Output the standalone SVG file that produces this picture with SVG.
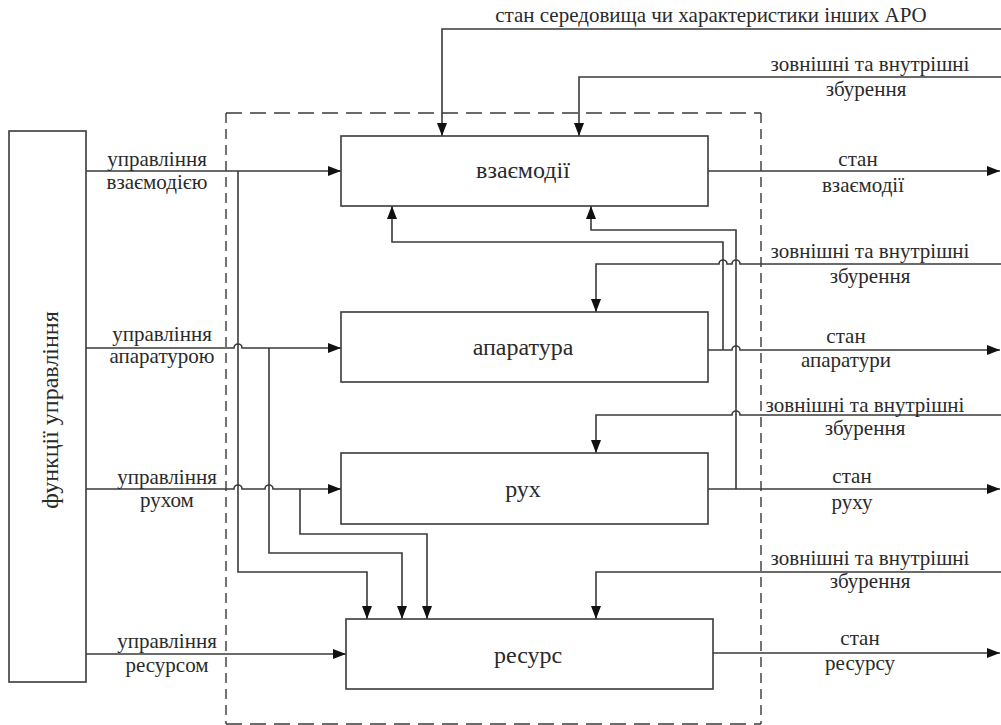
<svg xmlns="http://www.w3.org/2000/svg" width="1001" height="725" viewBox="0 0 1001 725">
<style>
.bx{fill:#fff;stroke:#3a3a3a;stroke-width:1.6}
.ln{fill:none;stroke:#3a3a3a;stroke-width:1.6}
.dsh{fill:none;stroke:#3a3a3a;stroke-width:1.4}
.h{stroke-dasharray:16 8}
.v{stroke-dasharray:10 6}
text{font-family:"Times New Roman","Liberation Serif",Tinos,"DejaVu Serif",serif;fill:#2a2a2a;text-anchor:middle}
.e{font-size:21px}
.b{font-size:24px}
</style>
<defs>
<marker id="ar" markerWidth="13" markerHeight="10" refX="13" refY="5" orient="auto" markerUnits="userSpaceOnUse">
<path d="M0,0 L13,5 L0,10 Z" fill="#111"/>
</marker>
</defs>
<rect width="1001" height="725" fill="#fff"/>
<g id="frame">
<line class="dsh h" x1="226" y1="113" x2="761" y2="113"/>
<line class="dsh h" x1="226" y1="724" x2="761" y2="724"/>
<line class="dsh v" x1="226" y1="113" x2="226" y2="724"/>
<line class="dsh v" x1="761" y1="113" x2="761" y2="724"/>
</g>
<g id="connectors">
<path class="ln" d="M86 171 H341" marker-end="url(#ar)"/>
<path class="ln" d="M238 171 V572 H367 V619" marker-end="url(#ar)"/>
<path class="ln" d="M86 348 H234 A4 4 0 0 1 242 348 H341" marker-end="url(#ar)"/>
<path class="ln" d="M269 348 V553 H402 V619" marker-end="url(#ar)"/>
<path class="ln" d="M86 489 H234 A4 4 0 0 1 242 489 H265 A4 4 0 0 1 273 489 H341" marker-end="url(#ar)"/>
<path class="ln" d="M300 489 V534 H427 V619" marker-end="url(#ar)"/>
<path class="ln" d="M86 654 H346" marker-end="url(#ar)"/>
<path class="ln" d="M1001 29 H442 V136" marker-end="url(#ar)"/>
<path class="ln" d="M1001 77 H579 V136" marker-end="url(#ar)"/>
<path class="ln" d="M708 171 H1000" marker-end="url(#ar)"/>
<path class="ln" d="M723 350 V242 H392 V206" marker-end="url(#ar)"/>
<path class="ln" d="M736 489 V230 H591 V206" marker-end="url(#ar)"/>
<path class="ln" d="M1001 264 H740 A4 4 0 0 0 732 264 H727 A4 4 0 0 0 719 264 H596 V312" marker-end="url(#ar)"/>
<path class="ln" d="M708 350 H732 A4 4 0 0 1 740 350 H1000" marker-end="url(#ar)"/>
<path class="ln" d="M1001 415 H740 A4 4 0 0 0 732 415 H596 V453" marker-end="url(#ar)"/>
<path class="ln" d="M708 489 H1000" marker-end="url(#ar)"/>
<path class="ln" d="M1001 572 H596 V619" marker-end="url(#ar)"/>
<path class="ln" d="M713 653 H1000" marker-end="url(#ar)"/>
</g>
<g id="node-functions">
<rect class="bx" x="9" y="131" width="77" height="551"/>
<text font-size="24" transform="translate(58,410) rotate(-90)">функції управління</text>
</g>
<g id="node-interaction">
<rect class="bx" x="341" y="136" width="367" height="70"/>
<text class="b" x="523" y="178">взаємодії</text>
</g>
<g id="node-apparatus">
<rect class="bx" x="341" y="312" width="367" height="70"/>
<text class="b" x="523" y="355">апаратура</text>
</g>
<g id="node-motion">
<rect class="bx" x="341" y="453" width="367" height="71"/>
<text class="b" x="523" y="497">рух</text>
</g>
<g id="node-resource">
<rect class="bx" x="346" y="619" width="367" height="70"/>
<text class="b" x="528" y="663">ресурс</text>
</g>
<g id="labels">
<text class="e" x="157" y="166">управління</text>
<text class="e" x="157" y="189">взаємодією</text>
<text class="e" x="162" y="341">управління</text>
<text class="e" x="162" y="363">апаратурою</text>
<text class="e" x="167" y="484">управління</text>
<text class="e" x="167" y="507">рухом</text>
<text class="e" x="167" y="648">управління</text>
<text class="e" x="167" y="672">ресурсом</text>
<text class="e" x="711" y="22">стан середовища чи характеристики інших АРО</text>
<text class="e" x="870" y="71">зовнішні та внутрішні</text>
<text class="e" x="866" y="96">збурення</text>
<text class="e" x="858" y="166">стан</text>
<text class="e" x="863" y="192">взаємодії</text>
<text class="e" x="870" y="258">зовнішні та внутрішні</text>
<text class="e" x="870" y="283">збурення</text>
<text class="e" x="846" y="343">стан</text>
<text class="e" x="846" y="367">апаратури</text>
<text class="e" x="865" y="412">зовнішні та внутрішні</text>
<text class="e" x="865" y="435">збурення</text>
<text class="e" x="852" y="483">стан</text>
<text class="e" x="852" y="509">руху</text>
<text class="e" x="870" y="565">зовнішні та внутрішні</text>
<text class="e" x="870" y="588">збурення</text>
<text class="e" x="860" y="645">стан</text>
<text class="e" x="860" y="670">ресурсу</text>
</g>
</svg>
